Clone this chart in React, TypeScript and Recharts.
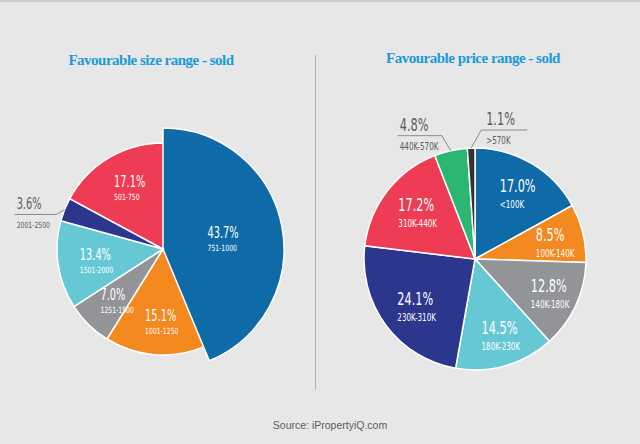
import { PieChart, Pie, Cell } from "recharts";

const sizeRanges = ["751-1000", "1001-1250", "1251-1500", "1501-2000", "2001-2500", "501-750"];
const sizeShares = [43.7, 15.1, 7.0, 13.4, 3.6, 17.1];
const sizeColors = ["#0f6aa8", "#f3891f", "#929497", "#67c8d5", "#2b368c", "#ee3c54"];

const priceRanges = ["<100K", "100K-140K", "140K-180K", "180K-230K", "230K-310K", "310K-440K", "440K-570K", ">570K"];
const priceShares = [17.0, 8.5, 12.8, 14.5, 24.1, 17.2, 4.8, 1.1];
const priceColors = ["#0f6aa8", "#f3891f", "#929497", "#67c8d5", "#2b368c", "#ee3c54", "#2bb673", "#333333"];

const sizeData = sizeRanges.map((name, i) => ({ name, value: sizeShares[i] }));
const priceData = priceRanges.map((name, i) => ({ name, value: priceShares[i] }));

const RAD = Math.PI / 180;
const FONT = "'DejaVu Sans Condensed', 'Liberation Sans Narrow', 'Roboto', sans-serif";

type Callout = { dx: number; dy: number; len: number; side: "left" | "right" };

const sizeCallouts: Record<string, Callout> = {
  "2001-2500": { dx: -8, dy: 5, len: 42, side: "left" },
};
const priceCallouts: Record<string, Callout> = {
  "440K-570K": { dx: -9, dy: -15, len: 44, side: "left" },
  ">570K": { dx: 10, dy: -18, len: 46, side: "right" },
};

// condensed text: scaled horizontally around its start point
function Narrow({ x, y, size, fill, squeeze, children }: any) {
  return (
    <text
      transform={`translate(${x},${y}) scale(${squeeze},1)`}
      fill={fill}
      fontSize={size}
      fontFamily={FONT}
    >
      {children}
    </text>
  );
}

function makeLabel(opts: {
  callouts: Record<string, Callout>;
  radius: number;
  big: number;
  small: number;
  gap: number;
  shift: number;
}) {
  return (props: any) => {
    const { cx, cy, midAngle, outerRadius, name, value, percent } = props;
    const cos = Math.cos(-midAngle * RAD);
    const sin = Math.sin(-midAngle * RAD);
    const pct = `${Number(value).toFixed(1)}%`;
    const c = opts.callouts[name];
    if (c) {
      const ex = cx + outerRadius * cos;
      const ey = cy + outerRadius * sin;
      const bx = ex + c.dx;
      const by = ey + c.dy;
      const fx = c.side === "left" ? bx - c.len : bx + c.len;
      const tx = c.side === "left" ? fx + 2 : bx + 5;
      return (
        <g>
          <polyline
            points={`${ex},${ey} ${bx},${by} ${fx},${by}`}
            fill="none"
            stroke="#8a8a8a"
            strokeWidth={1}
          />
          <Narrow x={tx} y={by - 5} size={opts.big} squeeze={0.68} fill="#5b5b5b">{pct}</Narrow>
          <Narrow x={tx} y={by + 14} size={opts.small} squeeze={0.8} fill="#5b5b5b">{name}</Narrow>
        </g>
      );
    }
    const r = percent > 0.3 ? opts.radius * 0.8 : opts.radius;
    const px = cx + r * cos;
    const py = cy + r * sin;
    return (
      <g>
        <Narrow x={px - opts.shift} y={py} size={opts.big} squeeze={0.68} fill="#fff">{pct}</Narrow>
        <Narrow x={px - opts.shift} y={py + opts.gap} size={opts.small} squeeze={0.8} fill="#fff">{name}</Narrow>
      </g>
    );
  };
}

const sizeLabel = makeLabel({ callouts: sizeCallouts, radius: 72, big: 16, small: 8.5, gap: 13, shift: 12 });
const priceLabel = makeLabel({ callouts: priceCallouts, radius: 78, big: 18.5, small: 10, gap: 16, shift: 15 });

const titleStyle: React.CSSProperties = {
  position: "absolute",
  width: 260,
  textAlign: "center",
  color: "#1b9ad6",
  fontFamily: "'Liberation Serif', 'DejaVu Serif', serif",
  fontWeight: 700,
  fontSize: 15,
  letterSpacing: -0.5,
};

export default function App() {
  return (
    <div
      style={{
        position: "absolute",
        left: 0,
        top: 0,
        width: 640,
        height: 444,
        background: "#e7e7e7",
        borderTop: "2px solid #cdcdcd",
        boxSizing: "border-box",
        overflow: "hidden",
      }}
    >
      <div style={{ ...titleStyle, left: 21, top: 50 }}>Favourable size range - sold</div>
      <div style={{ ...titleStyle, left: 343, top: 48 }}>Favourable price range - sold</div>
      <div style={{ position: "absolute", left: 315, top: 53, width: 1, height: 335, background: "#b3b3b3" }} />
      <div
        style={{
          position: "absolute",
          left: 0,
          width: 640,
          top: 417,
          textAlign: "center",
          paddingLeft: 20,
          boxSizing: "border-box",
          fontFamily: "'Liberation Sans', Arial, sans-serif",
          fontSize: 10.5,
          color: "#5e5e5e",
        }}
      >
        Source: iPropertyiQ.com
      </div>
      <div style={{ position: "absolute", left: 0, top: -2 }}>
        <PieChart width={640} height={444} margin={{ top: 0, right: 0, bottom: 0, left: 0 }}>
          {/* enlarged copy of the leading slice, drawn underneath */}
          <Pie
            data={sizeData}
            dataKey="value"
            nameKey="name"
            cx={163}
            cy={249}
            outerRadius={121}
            startAngle={90}
            endAngle={-270}
            isAnimationActive={false}
          >
            {sizeData.map((d, i) => (
              <Cell
                key={d.name}
                fill={i === 0 ? sizeColors[0] : "transparent"}
                stroke={i === 0 ? "#fff" : "none"}
                strokeWidth={1.5}
              />
            ))}
          </Pie>
          <Pie
            data={sizeData}
            dataKey="value"
            nameKey="name"
            cx={163}
            cy={249}
            outerRadius={106}
            startAngle={90}
            endAngle={-270}
            label={sizeLabel}
            labelLine={false}
            isAnimationActive={false}
          >
            {sizeData.map((d, i) => (
              <Cell
                key={d.name}
                fill={sizeColors[i]}
                stroke={i === 0 ? sizeColors[0] : "#fff"}
                strokeWidth={1.5}
              />
            ))}
          </Pie>
          <Pie
            data={priceData}
            dataKey="value"
            nameKey="name"
            cx={475}
            cy={259}
            outerRadius={111}
            startAngle={90}
            endAngle={-270}
            label={priceLabel}
            labelLine={false}
            isAnimationActive={false}
          >
            {priceData.map((d, i) => (
              <Cell key={d.name} fill={priceColors[i]} stroke="#fff" strokeWidth={1.5} />
            ))}
          </Pie>
        </PieChart>
      </div>
    </div>
  );
}
